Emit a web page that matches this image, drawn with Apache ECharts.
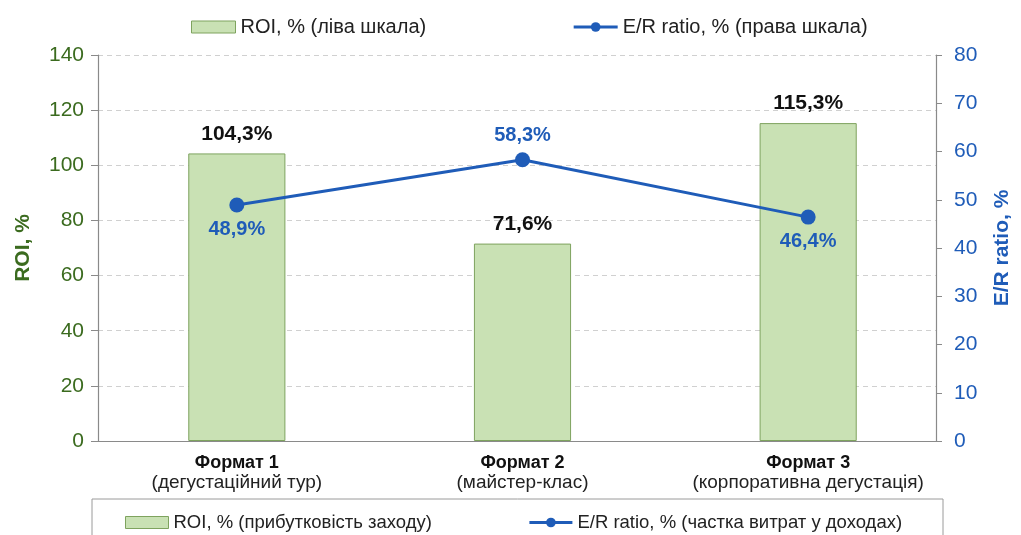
<!DOCTYPE html>
<html>
<head>
<meta charset="utf-8">
<script src="https://cdn.jsdelivr.net/npm/echarts@6/dist/echarts.min.js"></script>
<style>
  html, body { margin: 0; padding: 0; background: #fff; }
  #chart { width: 1021px; height: 535px; }
</style>
</head>
<body>
<div id="chart"></div>
<script>
// Event formats and their descriptions
const formats = ['Формат 1', 'Формат 2', 'Формат 3'];
const formatNotes = ['(дегустаційний тур)', '(майстер-клас)', '(корпоративна дегустація)'];

// ROI, % (left scale)
const roiValues = [104.3, 71.6, 115.3];
// E/R ratio, % (right scale)
const erValues = [48.9, 58.3, 46.4];
const erLabelPos = ['bottom', 'top', 'bottom'];

// Axis ranges
const roiTicks = { min: 0, max: 140, interval: 20 };
const erTicks = { min: 0, max: 80, interval: 10 };

// Series names and legend texts
const roiName = 'ROI, %';
const erName = 'E/R ratio, %';
const topLegendText = { 'ROI, %': 'ROI, % (ліва шкала)', 'E/R ratio, %': 'E/R ratio, % (права шкала)' };
const bottomLegendText = { 'ROI, %': 'ROI, % (прибутковість заходу)', 'E/R ratio, %': 'E/R ratio, % (частка витрат у доходах)' };

const GREEN = '#3b6b1f';
const BLUE = '#1f5cb8';
const AXIS_GRAY = '#8a8a8a';
const FONT = '"Liberation Sans", Arial, sans-serif';

const fmt = v => v.toFixed(1).replace('.', ',') + '%';

const chart = echarts.init(document.getElementById('chart'));

const legendData = [
  { name: roiName, icon: 'rect', itemStyle: { color: '#c9e1b4', borderColor: '#7ea35e', borderWidth: 1 } },
  { name: erName, lineStyle: { color: BLUE, width: 3 }, itemStyle: { color: BLUE } }
];

chart.setOption({
  backgroundColor: '#fff',
  animation: false,
  textStyle: { fontFamily: FONT },
  grid: [
    // frame grid: visible value axes, gridlines and the base line
    { left: 98, right: 83, top: 55, bottom: 94 },
    // data grid: bars, line and category labels
    { left: 94, right: 70, top: 55, bottom: 94 }
  ],
  graphic: [{
    type: 'rect',
    shape: { x: 92, y: 499, width: 851, height: 50 },
    style: { fill: 'none', stroke: '#9a9a9a', lineWidth: 1 },
    silent: true
  }],
  legend: [{
    left: 186, top: 12,
    itemWidth: 44, itemHeight: 12, itemGap: 146,
    data: legendData,
    formatter: n => topLegendText[n],
    textStyle: { fontSize: 20, color: '#222' }
  }, {
    left: 120, top: 508,
    itemWidth: 43, itemHeight: 12, itemGap: 96,
    data: legendData,
    formatter: n => bottomLegendText[n],
    textStyle: { fontSize: 18.5, color: '#222' }
  }],
  xAxis: [{
    gridIndex: 0,
    type: 'category',
    data: formats,
    axisLine: { lineStyle: { color: AXIS_GRAY, width: 1.2 } },
    axisTick: { show: false },
    axisLabel: { show: false }
  }, {
    gridIndex: 1,
    type: 'category',
    data: formats,
    axisLine: { show: false },
    axisTick: { show: false },
    axisLabel: {
      margin: 12,
      formatter: (v, i) => '{b|' + v + '}\n{s|' + formatNotes[i] + '}',
      rich: {
        b: { fontWeight: 'bold', fontSize: 18, color: '#111', lineHeight: 20 },
        s: { fontSize: 19, color: '#222', lineHeight: 20 }
      }
    }
  }],
  yAxis: [{
    gridIndex: 0,
    type: 'value',
    ...roiTicks,
    name: 'ROI, %',
    nameLocation: 'middle',
    nameGap: 64,
    nameRotate: 90,
    nameTextStyle: { color: GREEN, fontSize: 21, fontWeight: 'bold' },
    axisLine: { show: true, lineStyle: { color: AXIS_GRAY, width: 1.2 } },
    axisTick: { show: true, length: 7, lineStyle: { color: AXIS_GRAY } },
    axisLabel: { color: GREEN, fontSize: 21, margin: 14 },
    splitLine: { lineStyle: { color: '#d0d0d0', type: [5, 4] } }
  }, {
    gridIndex: 0,
    type: 'value',
    ...erTicks,
    position: 'right',
    name: 'E/R ratio, %',
    nameLocation: 'middle',
    nameGap: 56,
    nameRotate: 90,
    nameTextStyle: { color: BLUE, fontSize: 21, fontWeight: 'bold' },
    axisLine: { show: true, lineStyle: { color: AXIS_GRAY, width: 1.2 } },
    axisTick: { show: true, length: 6, lineStyle: { color: AXIS_GRAY } },
    axisLabel: { color: BLUE, fontSize: 21, margin: 18 },
    splitLine: { show: false }
  }, {
    gridIndex: 1,
    type: 'value',
    ...roiTicks,
    show: false
  }, {
    gridIndex: 1,
    type: 'value',
    ...erTicks,
    show: false
  }],
  series: [{
    name: roiName,
    type: 'bar',
    xAxisIndex: 1,
    yAxisIndex: 2,
    barWidth: '34%',
    data: roiValues,
    itemStyle: { color: '#c9e1b4', borderColor: '#7ea35e', borderWidth: 1 },
    label: {
      show: true, position: 'top', distance: 9,
      formatter: p => fmt(p.value),
      fontSize: 21, fontWeight: 'bold', color: '#111'
    },
    z: 2
  }, {
    name: erName,
    type: 'line',
    xAxisIndex: 1,
    yAxisIndex: 3,
    data: erValues.map((v, i) => ({
      value: v,
      label: { position: erLabelPos[i] }
    })),
    symbol: 'circle',
    symbolSize: 15,
    lineStyle: { color: BLUE, width: 3 },
    itemStyle: { color: BLUE },
    label: {
      show: true, distance: 7,
      formatter: p => fmt(p.value),
      fontSize: 20, fontWeight: 'bold', color: BLUE
    },
    z: 3
  }]
});
</script>
</body>
</html>
